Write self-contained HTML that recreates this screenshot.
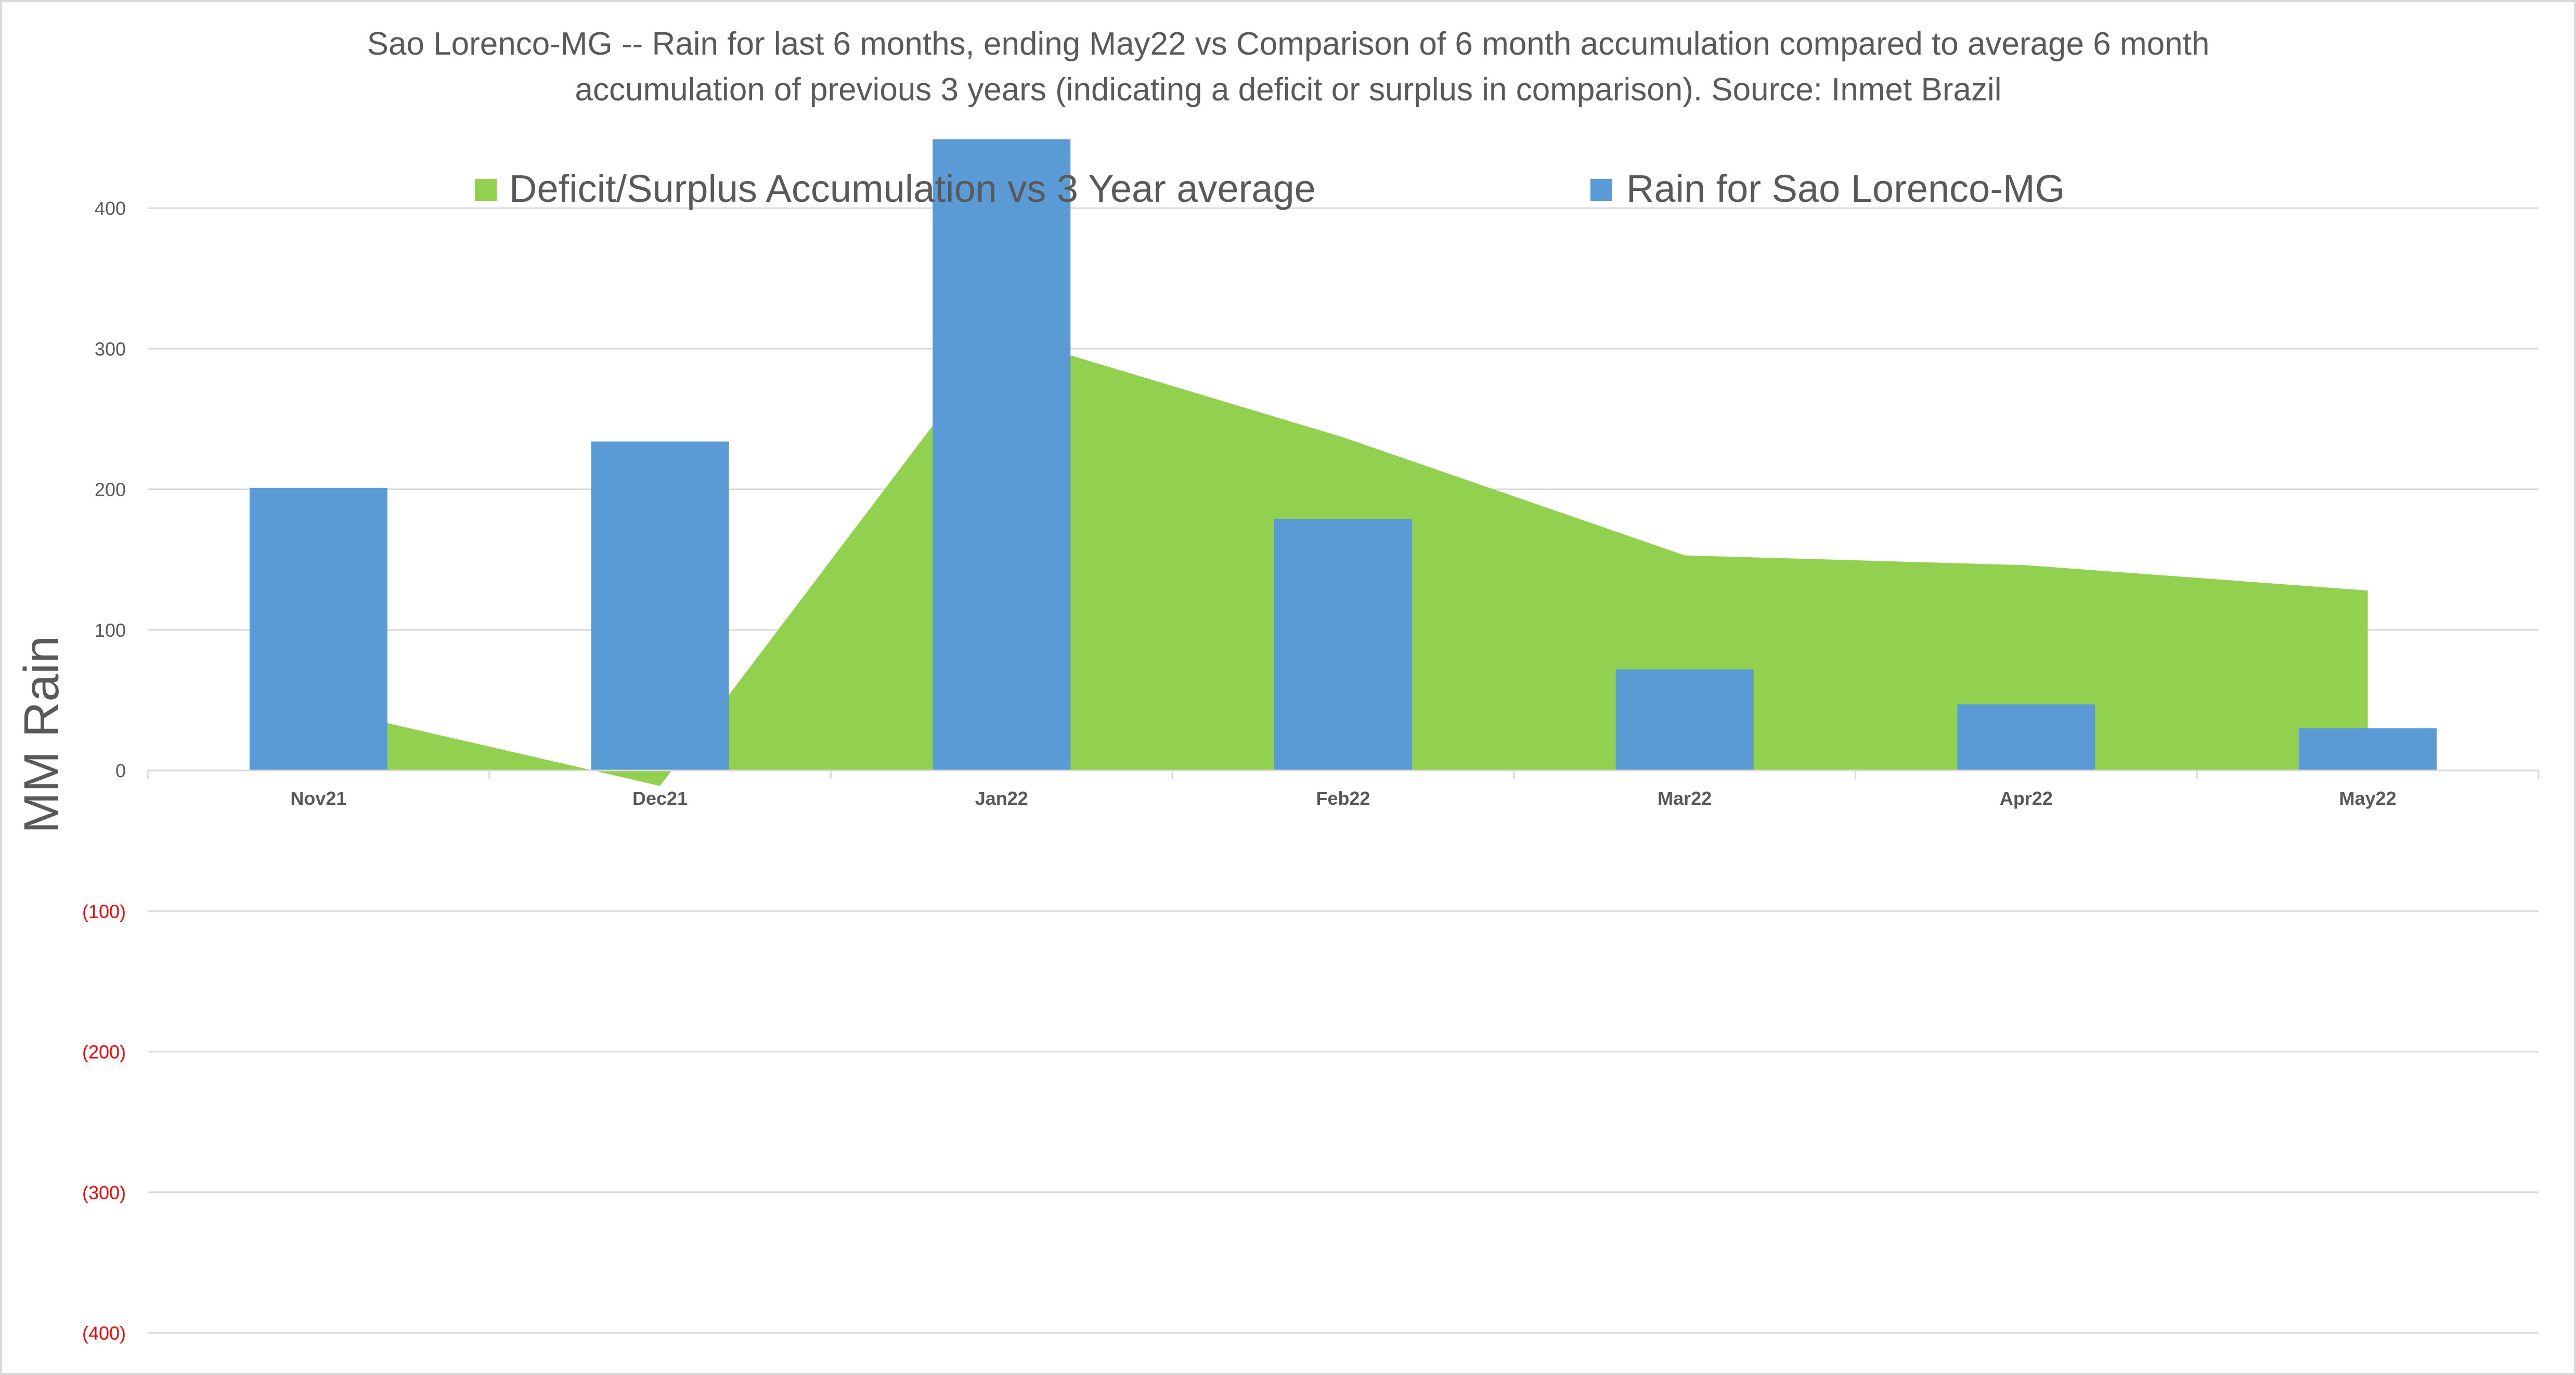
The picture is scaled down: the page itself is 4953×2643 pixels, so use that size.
<!DOCTYPE html>
<html><head><meta charset="utf-8"><style>
html,body{margin:0;padding:0;background:#fff}
svg{display:block;font-family:"Liberation Sans",Calibri,sans-serif}
</style></head><body>
<svg id="chart" width="4953" height="2643" viewBox="0 0 4953 2643">
<rect x="2" y="2" width="4949" height="2639" fill="#fff" stroke="#d9d9d9" stroke-width="4"/>
<text x="2477" y="105" text-anchor="middle" font-size="62" fill="#595959">Sao Lorenco-MG -- Rain for last 6 months, ending May22  vs Comparison of 6 month accumulation compared to average 6 month</text>
<text x="2477" y="193" text-anchor="middle" font-size="62" fill="#595959">accumulation of previous 3 years  (indicating a deficit or surplus in comparison). Source: Inmet Brazil</text>
<g id="grid"></g>
<g id="area"></g>
<g id="bars"></g>
<g id="axes"></g>
<text transform="translate(112,1412) rotate(-90)" text-anchor="middle" font-size="95" fill="#595959">MM Rain</text>
<g>
<g>
<rect x="913" y="344" width="42" height="42" fill="#92D050"/>
<text x="979" y="388" font-size="74" fill="#595959">Deficit/Surplus Accumulation vs 3 Year average</text>
</g>
<g>
<rect x="3058" y="344" width="42" height="42" fill="#5B9BD5"/>
<text x="3127" y="388" font-size="74" fill="#595959">Rain for Sao Lorenco-MG</text>
</g>
</g>
</svg>
<script>
const categories = ["Nov21","Dec21","Jan22","Feb22","Mar22","Apr22","May22"];
const rainValues = [201,234,449,179,72,47,30];
const deficitValues = [45,-11,310,237,153,146,128];
const yTicks = [400,300,200,100,0,-100,-200,-300,-400];
const yTickLabels = ["400","300","200","100","0","(100)","(200)","(300)","(400)"];

const NS="http://www.w3.org/2000/svg";
const L=284,R=4881,Y0=1481,PX=2.7025;
const step=(R-L)/categories.length;
function x(i){return L+step*(i+0.5);}
function y(v){return Y0-v*PX;}
function mk(tag,attrs,parent){const e=document.createElementNS(NS,tag);for(const k in attrs)e.setAttribute(k,attrs[k]);parent.appendChild(e);return e;}
const grid=document.getElementById('grid'),area=document.getElementById('area'),bars=document.getElementById('bars'),axes=document.getElementById('axes');
yTicks.forEach((t,i)=>{
  const ln=mk('line',{x1:L,x2:R,y1:y(t),y2:y(t),stroke:'#d9d9d9','stroke-width':3},grid);
  
  
  const tx=mk('text',{x:242,y:y(t)+13,'text-anchor':'end','font-size':36,fill:t<0?'#FF0000':'#595959'},axes);
  tx.textContent=yTickLabels[i];
  
  
});
let d='M'+x(0)+','+y(0);
deficitValues.forEach((v,i)=>{d+=' L'+x(i)+','+y(v);});
d+=' L'+x(deficitValues.length-1)+','+y(0)+' Z';
const ar=mk('path',{d:d,fill:'#92D050'},area);


const bw=265;
rainValues.forEach((v,i)=>{
  const r=mk('rect',{x:x(i)-bw/2,y:y(v),width:bw,height:y(0)-y(v),fill:'#5B9BD5'},bars);
  
  
});
const ax=mk('line',{x1:L,x2:R,y1:Y0,y2:Y0,stroke:'#d9d9d9','stroke-width':3},axes);


for(let i=0;i<=categories.length;i++){
  const tk=mk('line',{x1:L+step*i,x2:L+step*i,y1:Y0,y2:Y0+16,stroke:'#d9d9d9','stroke-width':3},axes);
  
  
}
categories.forEach((c,i)=>{
  const t=mk('text',{x:x(i),y:1547,'text-anchor':'middle','font-size':36,'font-weight':'bold',fill:'#595959'},axes);
  t.textContent=c;
  
  
});
</script>
</body></html>
